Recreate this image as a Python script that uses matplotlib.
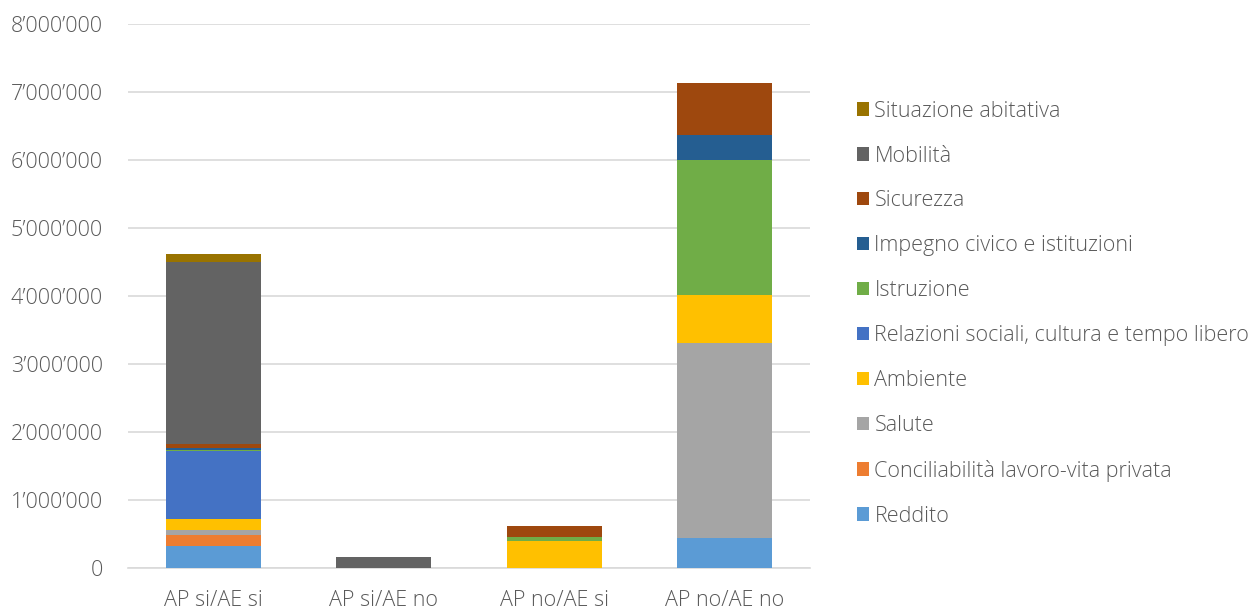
import matplotlib.pyplot as plt
import matplotlib.patches as patches
from matplotlib.ticker import FuncFormatter
import numpy as np

plt.rcParams['font.family'] = ['Open Sans', 'DejaVu Sans']
plt.rcParams['font.weight'] = 'light'

categories = ['AP si/AE si', 'AP si/AE no', 'AP no/AE si', 'AP no/AE no']

series_names = ['Reddito', 'Conciliabilità lavoro-vita privata', 'Salute', 'Ambiente',
                'Relazioni sociali, cultura e tempo libero', 'Istruzione',
                'Impegno civico e istituzioni', 'Sicurezza', 'Mobilità', 'Situazione abitativa']

reddito = [330000, 0, 0, 440000]
conciliabilita = [150000, 5000, 0, 0]
salute = [75000, 0, 0, 2870000]
ambiente = [160000, 0, 400000, 710000]
relazioni = [1000000, 0, 0, 0]
istruzione = [25000, 0, 60000, 1980000]
impegno = [30000, 0, 0, 370000]
sicurezza = [60000, 0, 160000, 760000]
mobilita = [2670000, 155000, 0, 0]
abitativa = [120000, 0, 0, 0]

series = [reddito, conciliabilita, salute, ambiente, relazioni, istruzione,
          impegno, sicurezza, mobilita, abitativa]
colors = ['#5B9BD5', '#ED7D31', '#A5A5A5', '#FFC000', '#4472C4', '#70AD47',
          '#255E91', '#9E480E', '#636363', '#997300']

text_color = '#595959'
fs = 15.5

fig = plt.figure(figsize=(12.58, 6.10), dpi=100, facecolor='white')
ax = fig.add_axes([128 / 1258, 1 - 568 / 610, 682 / 1258, 544 / 610])

x = np.arange(len(categories))
bottom = np.zeros(len(categories))
for vals, col in zip(series, colors):
    ax.bar(x, vals, bottom=bottom, width=0.557, color=col, edgecolor='none', zorder=3)
    bottom += np.array(vals)

ax.set_xlim(-0.5, 3.5)
ax.set_ylim(0, 8000000)
ax.set_yticks(np.arange(0, 8000001, 1000000))
ax.yaxis.set_major_formatter(FuncFormatter(lambda v, p: f"{int(v):,}".replace(",", "\u2019")))
ax.set_xticks(x)
ax.set_xticklabels(categories)
ax.grid(axis='y', color='#D9D9D9', linewidth=1.2, zorder=0)
for s in ['top', 'right', 'left']:
    ax.spines[s].set_visible(False)
ax.spines['bottom'].set_color('#D9D9D9')
ax.spines['bottom'].set_linewidth(1.2)
ax.tick_params(axis='y', length=0, pad=18, labelsize=fs, labelcolor=text_color)
ax.tick_params(axis='x', length=0, pad=16, labelsize=fs, labelcolor=text_color)

handles = [patches.Patch(facecolor=c, edgecolor='none') for c in colors]
leg = fig.legend(handles[::-1], series_names[::-1], loc='upper left',
                 bbox_to_anchor=(848 / 1258, 1 - 92 / 610), frameon=False,
                 fontsize=fs, labelspacing=1.11, handlelength=0.58, handleheight=0.58,
                 handletextpad=0.25, borderaxespad=0)
for t in leg.get_texts():
    t.set_color(text_color)

plt.savefig('out.png', dpi=100, facecolor='white')
